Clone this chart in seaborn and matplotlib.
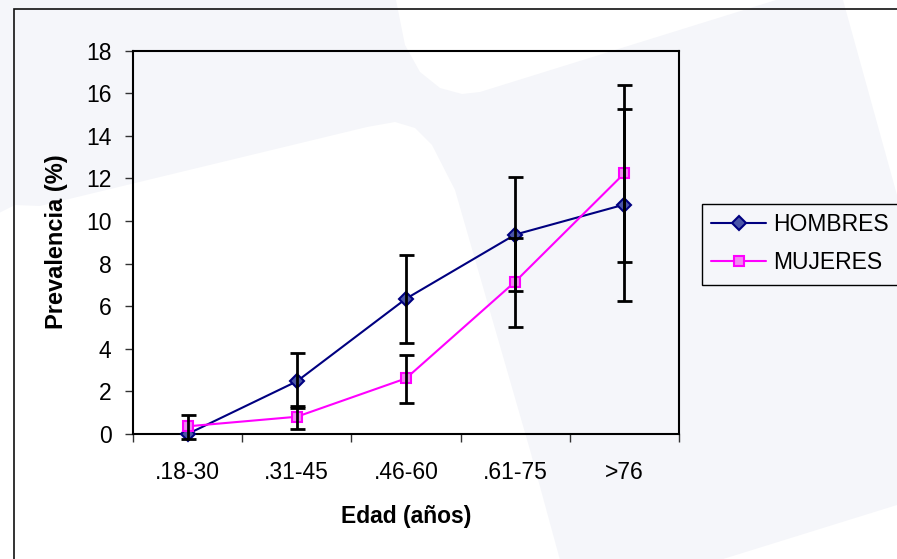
import numpy as np
import matplotlib
matplotlib.use("Agg")
import matplotlib.pyplot as plt
from matplotlib.patches import Polygon
from matplotlib.lines import Line2D
import seaborn as sns

# Age groups and prevalence (%) by sex, with confidence bounds
EDAD = [".18-30", ".31-45", ".46-60", ".61-75", ">76"]
HOMBRES = [0.0, 2.47, 6.35, 9.36, 10.77]
HOMBRES_INF = [np.nan, 1.21, 4.27, 6.70, 6.26]
HOMBRES_SUP = [np.nan, 3.79, 8.42, 12.04, 15.25]
MUJERES = [0.36, 0.81, 2.61, 7.15, 12.24]
MUJERES_INF = [-0.23, 0.22, 1.44, 5.04, 8.05]
MUJERES_SUP = [0.88, 1.33, 3.71, 9.19, 16.39]
Y_TICKS = list(range(0, 19, 2))

W, H = 897, 559
FS = 16.5

sns.set_theme(style="white")
plt.rcParams["font.family"] = ["Liberation Sans", "DejaVu Sans"]
plt.rcParams.update({"text.color": "black", "axes.labelcolor": "black",
                     "xtick.color": "black", "ytick.color": "black"})

fig = plt.figure(figsize=(W / 100, H / 100), dpi=100, facecolor="#F5F6FA")


def px(x, y):
    """Pixel position (from top-left) to figure fraction."""
    return (x / W, 1 - y / H)


def open_frame(points, **kw):
    xs, ys = zip(*[px(*p) for p in points])
    fig.add_artist(Line2D(xs, ys, transform=fig.transFigure,
                          solid_joinstyle="miter", **kw))


# faint backdrop shapes
shapes = [
    [(396, 0), (405, 45), (420, 72), (440, 88), (462, 94), (480, 92), (776, 0)],
    [(843, 0), (897, 0), (897, 195)],
    [(-5, 215), (15, 205), (40, 206), (367, 127), (395, 122), (415, 128),
     (432, 145), (455, 190), (530, 450), (560, 560), (-5, 560)],
    [(720, 560), (897, 505), (897, 560)],
]
for s in shapes:
    fig.add_artist(Polygon([px(*p) for p in s], closed=True,
                           transform=fig.transFigure, facecolor="white",
                           edgecolor="none", zorder=-10))

# chart area border (top and left edges only are inside the canvas)
open_frame([(13.5, 600), (13.5, 8.5), (960, 8.5)], color="#111111",
           linewidth=1.2, zorder=-5)

ax = fig.add_axes([133 / W, 1 - 434 / H, 546 / W, 383.5 / H])
ax.patch.set_visible(False)

sns.lineplot(x=EDAD, y=HOMBRES, ax=ax, sort=False, color="#000080",
             linewidth=1.5, marker="D", markersize=7,
             markerfacecolor="#4A55A8", markeredgecolor="#000080",
             markeredgewidth=1.5, label="HOMBRES", clip_on=False, zorder=3)
sns.lineplot(x=EDAD, y=MUJERES, ax=ax, sort=False, color="#FF00FF",
             linewidth=1.5, marker="s", markersize=7,
             markerfacecolor="#F08AF0", markeredgecolor="#FF00FF",
             markeredgewidth=1.5, label="MUJERES", clip_on=False, zorder=3)

for vals, lo, hi in [(HOMBRES, HOMBRES_INF, HOMBRES_SUP),
                     (MUJERES, MUJERES_INF, MUJERES_SUP)]:
    v = np.asarray(vals, dtype=float)
    err = np.vstack([v - np.asarray(lo, dtype=float),
                     np.asarray(hi, dtype=float) - v])
    cont = ax.errorbar(EDAD, v, yerr=err, fmt="none", ecolor="black",
                       elinewidth=2, capsize=5.4, capthick=2, zorder=4)
    for art in list(cont.lines[1]) + list(cont.lines[2]):
        art.set_clip_on(False)

ax.set_xlim(-0.5, 4.5)
ax.set_ylim(0, 18)
ax.set_yticks(Y_TICKS)
ax.set_xticks(np.arange(-0.5, 5, 1))
ax.set_xticklabels([])
ax.set_xticks(range(len(EDAD)), labels=EDAD, minor=True)

ax.tick_params(axis="x", which="minor", length=0, pad=19.5, labelsize=FS)
ax.tick_params(axis="x", which="major", length=6, width=1, color="#333333",
               direction="out", bottom=True)
ax.tick_params(axis="y", length=6, width=1, color="#333333", direction="out",
               left=True, pad=9.4, labelsize=FS)

for sp in ax.spines.values():
    sp.set_visible(True)
    sp.set_color("black")
    sp.set_linewidth(1.5)

ax.set_xlabel("Edad (años)", fontsize=FS, fontweight="bold")
ax.xaxis.set_label_coords(*px(406, 516), transform=fig.transFigure)
ax.xaxis.label.set_va("center")
ax.set_ylabel("Prevalencia (%)", fontsize=17, fontweight="bold")
ax.yaxis.set_label_coords(*px(56, 242), transform=fig.transFigure)
ax.yaxis.label.set_va("center")

# legend entries; the box around them runs past the right edge
leg = ax.legend(loc="upper left", bbox_to_anchor=px(702, 204),
                bbox_transform=fig.transFigure, borderaxespad=0,
                frameon=False, fontsize=FS, borderpad=0.4,
                handlelength=2.4, handletextpad=0.3, labelspacing=0.65)
open_frame([(960, 204), (702, 204), (702, 285), (960, 285)], color="black",
           linewidth=1.0, zorder=5)

fig.savefig("out.png", dpi=100, facecolor=fig.get_facecolor())
